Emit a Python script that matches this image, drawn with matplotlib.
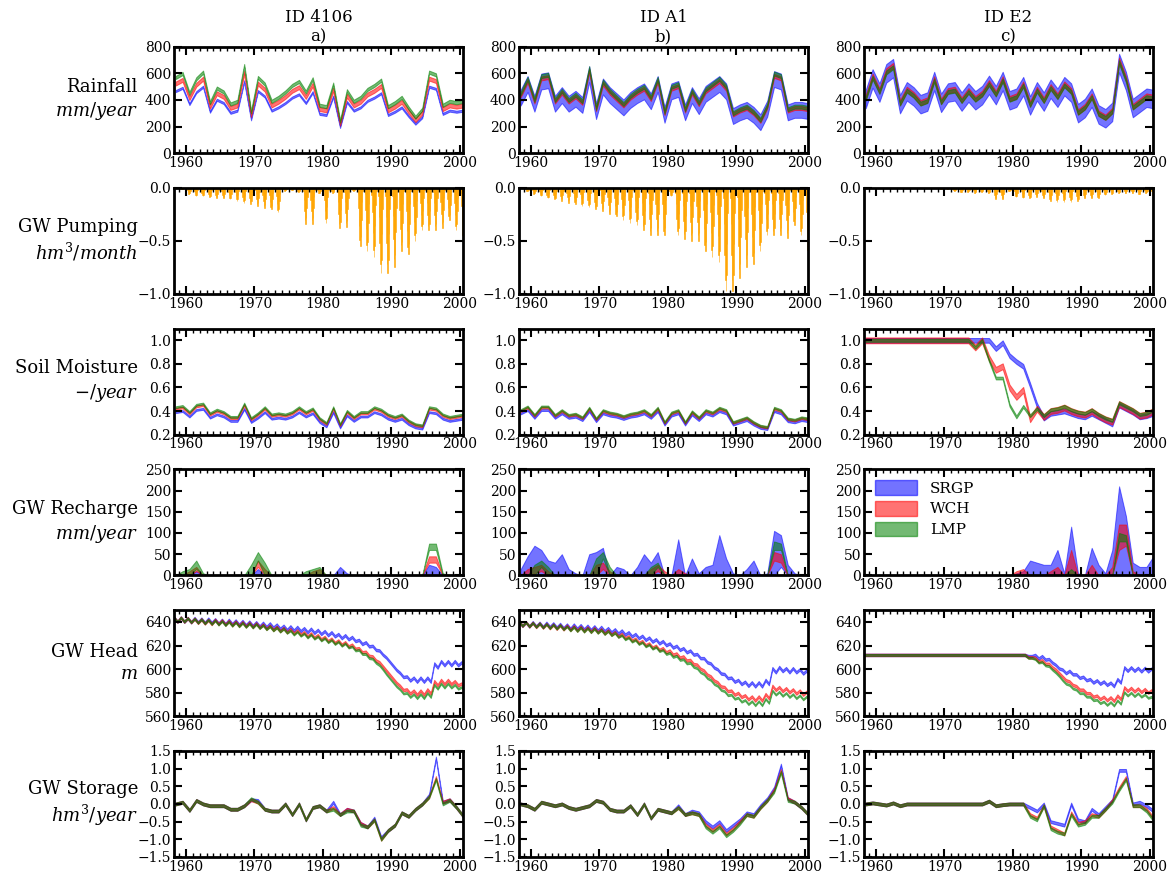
import numpy as np
import matplotlib
matplotlib.use('Agg')
import matplotlib.pyplot as plt
from matplotlib.patches import Patch
from matplotlib.ticker import MultipleLocator

plt.rcParams['font.family'] = 'serif'
plt.rcParams['font.serif'] = ['DejaVu Serif']
plt.rcParams['mathtext.fontset'] = 'dejavuserif'

sites = ['4106', 'A1', 'E2']
letters = ['a)', 'b)', 'c)']
methods = ['SRGP', 'WCH', 'LMP']
colors = ['blue', 'red', 'green']

# water years 1958..2000, values sit mid-year
years = np.arange(1958, 2001)

# ---- rainfall (mm/year): base series + per-method ratio and band half-width
rain_4106 = [570, 600, 450, 560, 610, 380, 490, 460, 370, 390, 660, 310, 570, 520, 390,
             420, 460, 510, 540, 460, 560, 360, 350, 520, 240, 470, 390, 420, 480, 510,
             550, 350, 380, 420, 340, 270, 330, 610, 590, 360, 390, 380, 390]
rain_A1 = [450, 560, 400, 580, 590, 400, 470, 400, 440, 390, 640, 340, 540, 470, 420,
           370, 430, 470, 500, 420, 560, 310, 500, 520, 330, 470, 380, 480, 520, 560,
           500, 300, 330, 350, 310, 250, 360, 600, 580, 330, 350, 350, 340]
rain_E2 = [420, 580, 470, 620, 660, 380, 480, 440, 380, 400, 560, 390, 470, 480, 400,
           470, 410, 450, 530, 450, 560, 410, 430, 520, 370, 480, 400, 500, 430, 520,
           470, 310, 350, 430, 300, 270, 320, 700, 560, 350, 390, 430, 420]
rain_ratio = {'4106': [0.82, 0.92, 1.0], 'A1': [0.93, 0.97, 1.0], 'E2': [0.97, 1.0, 0.98]}
rain_spread = {'4106': [8, 15, 12], 'A1': [60, 15, 15], 'E2': [70, 20, 15]}

# ---- groundwater pumping (hm3/month): yearly peak and monthly shape
pump_4106 = [0.0, 0.01, 0.06, 0.08, 0.08, 0.09, 0.10, 0.10, 0.11, 0.12, 0.14, 0.15, 0.17,
             0.19, 0.20, 0.23, 0.03, 0.02, 0.04, 0.34, 0.34, 0.05, 0.33, 0.05, 0.38, 0.37,
             0.03, 0.55, 0.60, 0.65, 0.80, 0.80, 0.75, 0.60, 0.62, 0.50, 0.40, 0.40, 0.40,
             0.38, 0.30, 0.40, 0.50]
pump_A1 = [0.0, 0.03, 0.06, 0.08, 0.10, 0.11, 0.12, 0.14, 0.15, 0.17, 0.18, 0.20, 0.22,
           0.25, 0.27, 0.30, 0.33, 0.35, 0.40, 0.45, 0.45, 0.45, 0.08, 0.45, 0.48, 0.50,
           0.50, 0.60, 0.65, 0.70, 0.97, 0.97, 0.85, 0.75, 0.72, 0.60, 0.45, 0.45, 0.45,
           0.47, 0.35, 0.45, 0.65]
pump_E2 = [0.0, 0.0, 0.005, 0.005, 0.005, 0.005, 0.005, 0.005, 0.005, 0.005, 0.005, 0.01,
           0.01, 0.03, 0.04, 0.04, 0.05, 0.04, 0.05, 0.11, 0.11, 0.03, 0.09, 0.10, 0.10,
           0.09, 0.10, 0.12, 0.13, 0.13, 0.13, 0.12, 0.10, 0.10, 0.10, 0.07, 0.06, 0.05,
           0.05, 0.05, 0.06, 0.05, 0.08]
pump_month = [0.0, 0.1, 0.35, 0.65, 0.9, 1.0, 0.85, 0.55, 0.25, 0.05, 0.0, 0.0]

# ---- soil moisture (-/year)
sm_4106 = [0.42, 0.43, 0.38, 0.44, 0.45, 0.37, 0.40, 0.38, 0.34, 0.34, 0.45, 0.33, 0.37,
           0.42, 0.36, 0.37, 0.36, 0.38, 0.42, 0.38, 0.41, 0.33, 0.29, 0.42, 0.28, 0.39,
           0.34, 0.38, 0.38, 0.42, 0.40, 0.36, 0.34, 0.36, 0.31, 0.28, 0.27, 0.42, 0.41,
           0.36, 0.34, 0.35, 0.36]
sm_A1 = [0.40, 0.43, 0.36, 0.43, 0.43, 0.36, 0.40, 0.36, 0.37, 0.34, 0.42, 0.33, 0.40,
         0.38, 0.37, 0.35, 0.37, 0.38, 0.40, 0.36, 0.42, 0.30, 0.38, 0.40, 0.30, 0.39,
         0.34, 0.40, 0.38, 0.42, 0.40, 0.30, 0.32, 0.34, 0.30, 0.27, 0.26, 0.42, 0.40,
         0.33, 0.32, 0.34, 0.33]
sm_ratio = {'4106': [0.93, 1.0, 1.03], 'A1': [0.95, 1.0, 1.02]}
sm_E2_srgp = [1.0, 1.0, 1.0, 1.0, 1.0, 1.0, 1.0, 1.0, 1.0, 1.0, 1.0, 1.0, 1.0, 1.0, 1.0,
              1.0, 1.0, 1.0, 1.0, 0.93, 0.98, 0.87, 0.82, 0.78, 0.62, 0.45, 0.34, 0.38,
              0.39, 0.40, 0.38, 0.36, 0.35, 0.38, 0.35, 0.32, 0.29, 0.45, 0.42, 0.39,
              0.35, 0.36, 0.38]
sm_E2_wch = [1.0, 1.0, 1.0, 1.0, 1.0, 1.0, 1.0, 1.0, 1.0, 1.0, 1.0, 1.0, 1.0, 1.0, 1.0,
             1.0, 0.94, 1.0, 0.85, 0.75, 0.78, 0.60, 0.52, 0.58, 0.33, 0.42, 0.35, 0.40,
             0.41, 0.43, 0.40, 0.38, 0.37, 0.40, 0.36, 0.33, 0.31, 0.46, 0.43, 0.40,
             0.36, 0.37, 0.40]
sm_E2_lmp = [1.0, 1.0, 1.0, 1.0, 1.0, 1.0, 1.0, 1.0, 1.0, 1.0, 1.0, 1.0, 1.0, 1.0, 1.0,
             1.0, 0.94, 1.0, 0.83, 0.68, 0.68, 0.45, 0.35, 0.44, 0.36, 0.42, 0.36, 0.41,
             0.42, 0.44, 0.41, 0.39, 0.38, 0.41, 0.37, 0.34, 0.32, 0.47, 0.44, 0.41,
             0.37, 0.38, 0.41]

# ---- groundwater recharge (mm/year): band bottom and top per method
rch_4106_srgp_hi = [0, 0, 0, 10, 0, 0, 0, 0, 0, 0, 0, 0, 15, 0, 0, 0, 0, 0, 0, 0, 0, 0,
                    0, 0, 20, 5, 0, 0, 0, 0, 0, 0, 0, 0, 0, 0, 0, 25, 20, 0, 0, 0, 0]
rch_4106_wch_hi = [0, 0, 10, 20, 0, 0, 0, 0, 0, 0, 0, 0, 35, 15, 0, 0, 0, 0, 0, 0, 10, 15,
                   0, 0, 0, 0, 0, 0, 0, 0, 0, 0, 0, 0, 0, 0, 0, 45, 45, 0, 0, 0, 0]
rch_4106_wch_lo = [0, 0, 0, 10, 0, 0, 0, 0, 0, 0, 0, 0, 20, 0, 0, 0, 0, 0, 0, 0, 0, 0,
                   0, 0, 0, 0, 0, 0, 0, 0, 0, 0, 0, 0, 0, 0, 0, 30, 30, 0, 0, 0, 0]
rch_4106_lmp_hi = [0, 10, 15, 35, 5, 0, 0, 0, 0, 0, 0, 25, 55, 30, 0, 0, 0, 0, 0, 10, 15, 20,
                   0, 0, 0, 0, 0, 0, 0, 0, 0, 0, 0, 0, 0, 0, 0, 75, 75, 5, 0, 0, 0]
rch_4106_lmp_lo = [0, 0, 0, 15, 0, 0, 0, 0, 0, 0, 0, 0, 35, 0, 0, 0, 0, 0, 0, 0, 0, 0,
                   0, 0, 0, 0, 0, 0, 0, 0, 0, 0, 0, 0, 0, 0, 0, 60, 60, 0, 0, 0, 0]

rch_A1_srgp_hi = [15, 45, 70, 60, 35, 30, 50, 15, 5, 0, 50, 55, 65, 0, 20, 15, 0, 20, 50,
                  30, 55, 0, 0, 85, 0, 40, 5, 20, 25, 95, 40, 5, 0, 15, 35, 0, 5, 105, 95,
                  25, 5, 0, 0]
rch_A1_srgp_lo = [0, 0, 0, 0, 0, 0, 0, 0, 0, 0, 0, 0, 0, 0, 0, 0, 0, 0, 0, 0, 0, 0,
                  0, 0, 0, 0, 0, 0, 0, 0, 0, 0, 0, 0, 0, 0, 0, 0, 20, 0, 0, 0, 0]
rch_A1_wch_hi = [0, 15, 20, 25, 10, 0, 0, 0, 0, 0, 0, 25, 30, 10, 0, 0, 0, 0, 0, 15, 25,
                 10, 0, 15, 5, 0, 0, 0, 0, 0, 0, 0, 0, 0, 0, 0, 0, 55, 50, 0, 0, 0, 0]
rch_A1_wch_lo = [0, 0, 5, 10, 0, 0, 0, 0, 0, 0, 0, 0, 15, 0, 0, 0, 0, 0, 0, 0, 10,
                 0, 0, 0, 0, 0, 0, 0, 0, 0, 0, 0, 0, 0, 0, 0, 0, 35, 30, 0, 0, 0, 0]
rch_A1_lmp_hi = [0, 0, 25, 35, 20, 0, 0, 0, 0, 0, 0, 40, 55, 20, 0, 0, 0, 0, 0, 20, 30,
                 0, 0, 0, 0, 0, 0, 0, 0, 0, 0, 0, 0, 0, 0, 0, 0, 80, 75, 0, 0, 0, 0]
rch_A1_lmp_lo = [0, 0, 0, 20, 0, 0, 0, 0, 0, 0, 0, 0, 40, 0, 0, 0, 0, 0, 0, 0, 20,
                 0, 0, 0, 0, 0, 0, 0, 0, 0, 0, 0, 0, 0, 0, 0, 0, 60, 60, 0, 0, 0, 0]

rch_E2_srgp_hi = [0, 0, 0, 0, 0, 0, 0, 0, 0, 0, 0, 0, 0, 0, 0, 0, 0, 0, 0, 0, 0, 0,
                  5, 10, 35, 30, 25, 25, 60, 5, 115, 5, 0, 65, 25, 5, 60, 210, 140, 30,
                  20, 20, 45]
rch_E2_wch_hi = [0, 0, 0, 0, 0, 0, 0, 0, 0, 0, 0, 0, 0, 0, 0, 0, 0, 0, 0, 0, 0, 0,
                 10, 15, 0, 0, 0, 10, 20, 0, 60, 0, 0, 25, 0, 0, 20, 120, 120, 10, 0, 0, 0]
rch_E2_wch_lo = [0, 0, 0, 0, 0, 0, 0, 0, 0, 0, 0, 0, 0, 0, 0, 0, 0, 0, 0, 0, 0, 0,
                 0, 0, 0, 0, 0, 0, 0, 0, 5, 0, 0, 0, 0, 0, 0, 60, 70, 0, 0, 0, 0]
rch_E2_lmp_hi = [0, 0, 0, 0, 0, 0, 0, 0, 0, 0, 0, 0, 0, 0, 0, 0, 0, 0, 0, 0, 0, 0,
                 0, 0, 0, 0, 0, 0, 0, 0, 15, 0, 0, 0, 0, 0, 0, 100, 95, 0, 0, 0, 0]
rch_E2_lmp_lo = [0, 0, 0, 0, 0, 0, 0, 0, 0, 0, 0, 0, 0, 0, 0, 0, 0, 0, 0, 0, 0, 0,
                 0, 0, 0, 0, 0, 0, 0, 0, 0, 0, 0, 0, 0, 0, 0, 80, 80, 0, 0, 0, 0]

# ---- groundwater head (m): yearly level, seasonal swing drawn as a zigzag
head_4106_srgp = [642, 642, 641.5, 641.5, 641, 641, 640.5, 640, 640, 639.5, 639, 638.5,
                  638, 637.5, 637, 636, 635, 634.5, 634, 633, 632.5, 631.5, 630.5, 629.5,
                  628, 627, 625.5, 623, 621, 618, 614, 608, 601, 595, 592, 591, 591, 591,
                  603, 605, 605, 605, 604]
head_4106_wch = [642, 642, 641.5, 641, 640.5, 640, 640, 639.5, 639, 638.5, 638, 637.5,
                 637, 636, 635, 634, 633, 632, 631, 629.5, 628.5, 627, 625.5, 624, 622.5,
                 621, 619, 616, 613, 609, 604, 597, 590, 584, 581, 580, 580, 581, 588, 589,
                 589, 588, 586]
head_4106_lmp = [642, 642, 641.5, 641, 640.5, 640, 639.5, 639, 638.5, 638, 637.5, 637,
                 636.5, 635.5, 634.5, 633.5, 632.5, 631, 630, 628.5, 627.5, 626, 624.5, 623,
                 621.5, 620, 617.5, 614.5, 611, 607, 601.5, 594, 587, 581, 578, 577, 577,
                 578, 585, 586, 586, 585, 583]
head_A1_srgp = [638.5, 638, 638, 637.5, 637.5, 637, 636.5, 636, 636, 635.5, 635, 634.5,
                634, 633, 632, 631, 629.5, 628, 626.5, 625, 623.5, 622, 620, 618, 616, 614,
                611, 607.5, 603, 598, 594, 591, 589, 587.5, 587, 587, 589, 599, 600, 599,
                599, 598, 597]
head_A1_wch = [638.5, 638, 637.5, 637, 636.5, 636, 635.5, 635, 634.5, 634, 633.5, 633,
               632, 631, 629.5, 628, 626, 624, 622, 620, 618, 616, 614, 611.5, 609, 606,
               602, 597, 592, 587, 583, 580, 578, 576, 575, 575, 577, 584, 583, 582, 581,
               580, 579]
head_A1_lmp = [638.5, 638, 637.5, 637, 636.5, 636, 635.5, 634.5, 634, 633.5, 633, 632.5,
               631.5, 630.5, 629, 627, 625, 623, 621, 619, 617, 614.5, 612, 609.5, 606.5,
               603.5, 599, 594, 589, 584, 579.5, 576.5, 574, 572, 571, 571, 573, 580, 579,
               578, 577, 576, 575]
head_E2_srgp = [612, 612, 612, 612, 612, 612, 612, 612, 612, 612, 612, 612, 612, 612, 612,
                612, 612, 612, 612, 612, 612, 612, 612, 612, 611, 610.5, 609.5, 607, 602,
                598, 597, 594, 592, 590, 589, 588, 587, 590, 600, 600, 599.5, 599.5, 599]
head_E2_wch = [612, 612, 612, 612, 612, 612, 612, 612, 612, 612, 612, 612, 612, 612, 612,
               612, 612, 612, 612, 612, 612, 612, 612, 612, 610, 608, 606, 603, 598, 592,
               588, 584, 581, 578, 576, 575, 574.5, 576, 583, 582.5, 582, 581.5, 580.5]
head_E2_lmp = [612, 612, 612, 612, 612, 612, 612, 612, 612, 612, 612, 612, 612, 612, 612,
               612, 612, 612, 612, 612, 612, 612, 612, 612, 609.5, 607, 604.5, 601, 595.5,
               589, 585, 581, 578, 575, 572.5, 571, 570.5, 572, 579, 578.5, 578, 577, 575]
head_swing = {'4106': 3.5, 'A1': 3.5, 'E2': 3.0}
head_swing_from = {'4106': 1958, 'A1': 1958, 'E2': 1983}

# ---- groundwater storage change (hm3/year)
st_4106_srgp = [0.0, 0.05, -0.18, 0.1, 0.0, -0.05, -0.05, -0.05, -0.15, -0.15, -0.05, 0.12,
                0.1, -0.15, -0.2, -0.2, 0.0, -0.3, 0.0, -0.45, -0.1, -0.05, -0.2, 0.05,
                -0.3, -0.15, -0.2, -0.55, -0.65, -0.4, -0.95, -0.75, -0.6, -0.25, -0.35,
                -0.15, 0.0, 0.25, 1.3, 0.05, 0.12, -0.1, -0.35]
st_4106_wch = [0.0, 0.05, -0.18, 0.1, 0.0, -0.05, -0.05, -0.05, -0.15, -0.15, -0.05, 0.12,
               0.05, -0.15, -0.2, -0.2, 0.0, -0.3, 0.0, -0.45, -0.1, -0.05, -0.2, -0.1,
               -0.3, -0.15, -0.2, -0.55, -0.65, -0.45, -1.0, -0.75, -0.6, -0.25, -0.35,
               -0.15, 0.0, 0.2, 0.75, 0.05, 0.12, -0.1, -0.35]
st_4106_lmp = [0.0, 0.05, -0.18, 0.1, 0.0, -0.05, -0.05, -0.05, -0.15, -0.15, -0.05, 0.15,
               0.05, -0.15, -0.2, -0.2, 0.0, -0.3, 0.0, -0.45, -0.1, -0.05, -0.2, -0.15,
               -0.3, -0.2, -0.2, -0.6, -0.65, -0.45, -1.0, -0.75, -0.6, -0.25, -0.35,
               -0.15, 0.0, 0.2, 0.7, 0.0, 0.1, -0.1, -0.35]
st_A1_srgp = [0.0, -0.05, -0.15, 0.05, 0.0, -0.05, 0.0, -0.1, -0.15, -0.1, -0.05, 0.1,
              0.05, -0.15, -0.2, -0.2, -0.05, -0.3, 0.0, -0.4, -0.15, -0.2, -0.25, -0.05,
              -0.3, -0.2, -0.25, -0.5, -0.65, -0.5, -0.75, -0.6, -0.45, -0.25, -0.3,
              -0.05, 0.15, 0.45, 1.1, 0.15, 0.05, -0.1, -0.3]
st_A1_wch = [0.0, -0.05, -0.15, 0.05, 0.0, -0.05, 0.0, -0.1, -0.15, -0.1, -0.05, 0.1,
             0.05, -0.15, -0.2, -0.2, -0.05, -0.3, 0.0, -0.4, -0.15, -0.2, -0.25, -0.1,
             -0.3, -0.25, -0.3, -0.6, -0.75, -0.6, -0.85, -0.7, -0.5, -0.3, -0.35,
             -0.1, 0.1, 0.4, 0.95, 0.15, 0.05, -0.1, -0.3]
st_A1_lmp = [0.0, -0.05, -0.15, 0.05, 0.0, -0.05, 0.0, -0.1, -0.15, -0.1, -0.05, 0.1,
             0.05, -0.15, -0.2, -0.2, -0.05, -0.3, 0.0, -0.4, -0.15, -0.2, -0.25, -0.1,
             -0.3, -0.25, -0.3, -0.65, -0.8, -0.65, -0.9, -0.75, -0.55, -0.3, -0.35,
             -0.1, 0.1, 0.35, 0.9, 0.1, 0.05, -0.1, -0.3]
st_E2_srgp = [0.0, 0.03, 0.0, -0.03, 0.03, -0.05, 0.0, 0.0, 0.0, 0.0, 0.0, 0.0, 0.0, 0.0,
              0.0, 0.0, 0.0, 0.0, 0.08, -0.05, -0.02, 0.0, 0.0, 0.0, -0.1, -0.2, 0.0, -0.5,
              -0.55, -0.6, 0.0, -0.45, -0.5, -0.15, -0.3, -0.1, 0.1, 0.95, 0.95, 0.0, 0.05,
              -0.05, -0.2]
st_E2_wch = [0.0, 0.03, 0.0, -0.03, 0.03, -0.05, 0.0, 0.0, 0.0, 0.0, 0.0, 0.0, 0.0, 0.0,
             0.0, 0.0, 0.0, 0.0, 0.08, -0.05, -0.02, 0.0, 0.0, 0.0, -0.3, -0.4, -0.05,
             -0.65, -0.75, -0.85, -0.25, -0.55, -0.5, -0.3, -0.35, -0.15, 0.1, 0.45, 0.75,
             -0.05, -0.05, -0.15, -0.4]
st_E2_lmp = [0.0, 0.03, 0.0, -0.03, 0.03, -0.05, 0.0, 0.0, 0.0, 0.0, 0.0, 0.0, 0.0, 0.0,
             0.0, 0.0, 0.0, 0.0, 0.08, -0.05, -0.02, 0.0, 0.0, 0.0, -0.35, -0.45, -0.05,
             -0.7, -0.8, -0.85, -0.3, -0.6, -0.55, -0.35, -0.35, -0.15, 0.05, 0.4, 0.7,
             -0.05, -0.05, -0.2, -0.45]

rain = {'4106': rain_4106, 'A1': rain_A1, 'E2': rain_E2}
pump = {'4106': pump_4106, 'A1': pump_A1, 'E2': pump_E2}
rch_hi = {'4106': [rch_4106_srgp_hi, rch_4106_wch_hi, rch_4106_lmp_hi],
          'A1': [rch_A1_srgp_hi, rch_A1_wch_hi, rch_A1_lmp_hi],
          'E2': [rch_E2_srgp_hi, rch_E2_wch_hi, rch_E2_lmp_hi]}
rch_lo = {'4106': [None, rch_4106_wch_lo, rch_4106_lmp_lo],
          'A1': [rch_A1_srgp_lo, rch_A1_wch_lo, rch_A1_lmp_lo],
          'E2': [None, rch_E2_wch_lo, rch_E2_lmp_lo]}
head = {'4106': [head_4106_srgp, head_4106_wch, head_4106_lmp],
        'A1': [head_A1_srgp, head_A1_wch, head_A1_lmp],
        'E2': [head_E2_srgp, head_E2_wch, head_E2_lmp]}
storage = {'4106': [st_4106_srgp, st_4106_wch, st_4106_lmp],
           'A1': [st_A1_srgp, st_A1_wch, st_A1_lmp],
           'E2': [st_E2_srgp, st_E2_wch, st_E2_lmp]}

row_labels = ['Rainfall\n$mm/year$', 'GW Pumping\n$hm^3/month$', 'Soil Moisture\n$-/year$',
              'GW Recharge\n$mm/year$', 'GW Head\n$m$', 'GW Storage\n$hm^3/year$']
row_ylim = [(0, 800), (-1.0, 0.0), (0.2, 1.1), (0, 250), (560, 650), (-1.5, 1.5)]
row_ystep = [200, 0.5, 0.2, 50, 20, 0.5]
row_ystart = [0, -1.0, 0.2, 0, 560, -1.5]
row_yend = [800, 0.0, 1.0, 250, 640, 1.5]


def band(ax, x, lo, hi, color, alpha=0.55):
    ax.fill_between(x, lo, hi, facecolor=color, edgecolor=color, alpha=alpha, lw=0.7)


t = years + 0.5

fig, axes = plt.subplots(6, 3, figsize=(11.71, 8.75), dpi=100)
fig.subplots_adjust(left=0.1486, right=0.9846, top=0.9463, bottom=0.0206,
                    wspace=0.194, hspace=0.328)

for c, site in enumerate(sites):
    # rainfall
    ax = axes[0, c]
    base = np.array(rain[site], dtype=float)
    for k, col in enumerate(colors):
        mid = base * rain_ratio[site][k]
        w = rain_spread[site][k]
        band(ax, t, mid - w, mid + w, col)

    # pumping, monthly bars
    ax = axes[1, c]
    peaks = np.array(pump[site])
    shape = np.array(pump_month)
    tm = (years[:, None] + (np.arange(12)[None, :] + 0.5) / 12.0).ravel()
    vals = -(peaks[:, None] * shape[None, :]).ravel()
    ax.bar(tm, vals, width=1 / 12.0, color='orange', edgecolor='orange', linewidth=0.4)

    # soil moisture
    ax = axes[2, c]
    if site == 'E2':
        series = [sm_E2_srgp, sm_E2_wch, sm_E2_lmp]
        widths = [0.02, 0.025, 0.012]
        for k, col in enumerate(colors):
            s = np.array(series[k])
            band(ax, t, s - widths[k], s + widths[k], col)
    else:
        base = np.array(sm_4106 if site == '4106' else sm_A1)
        for k, col in enumerate(colors):
            mid = base * sm_ratio[site][k]
            band(ax, t, mid - 0.008, mid + 0.008, col)

    # recharge
    ax = axes[3, c]
    for k, col in enumerate(colors):
        hi = np.array(rch_hi[site][k], dtype=float)
        lo = rch_lo[site][k]
        lo = np.zeros_like(hi) if lo is None else np.array(lo, dtype=float)
        band(ax, t, lo, hi, col)

    # head, yearly high/low zigzag
    ax = axes[4, c]
    swing = np.where(years >= head_swing_from[site], head_swing[site], 0.0)
    tz = np.column_stack([t - 0.25, t + 0.25]).ravel()
    for k, col in enumerate(colors):
        lvl = np.array(head[site][k])
        hz = np.column_stack([lvl + swing / 2, lvl - swing / 2]).ravel()
        w = 0.8 if k == 2 else 1.1
        band(ax, tz, hz - w, hz + w, col)

    # storage
    ax = axes[5, c]
    for k, col in enumerate(colors):
        s = np.array(storage[site][k])
        band(ax, t, s - 0.04, s + 0.04, col)

    axes[0, c].set_title('ID %s\n%s' % (site, letters[c]), fontsize=12, pad=4)

for r in range(6):
    for c in range(3):
        ax = axes[r, c]
        ax.set_xlim(1958.25, 2000.45)
        ax.set_ylim(*row_ylim[r])
        ax.set_yticks(np.arange(row_ystart[r], row_yend[r] + 1e-9, row_ystep[r]))
        ax.xaxis.set_major_locator(MultipleLocator(10))
        ax.xaxis.set_minor_locator(MultipleLocator(1))
        ax.tick_params(which='both', direction='in', top=True, right=True,
                       labelsize=10, pad=2)
        ax.tick_params(which='major', length=6, width=1.5)
        ax.tick_params(which='minor', length=3, width=1.0)
        for sp in ax.spines.values():
            sp.set_linewidth(2)
    ax = axes[r, 0]
    ax.set_ylabel(row_labels[r], rotation=0, ha='right', va='center', fontsize=13,
                  linespacing=1.3)
    ax.yaxis.set_label_coords(-0.125, 0.5)

handles = [Patch(facecolor=col, edgecolor=col, alpha=0.55, label=m)
           for m, col in zip(methods, colors)]
axes[3, 2].legend(handles=handles, loc='upper left', frameon=False, fontsize=11,
                  handlelength=2.8, handleheight=1.1, labelspacing=0.35,
                  borderaxespad=0.3)

fig.savefig('out.png', dpi=100)
